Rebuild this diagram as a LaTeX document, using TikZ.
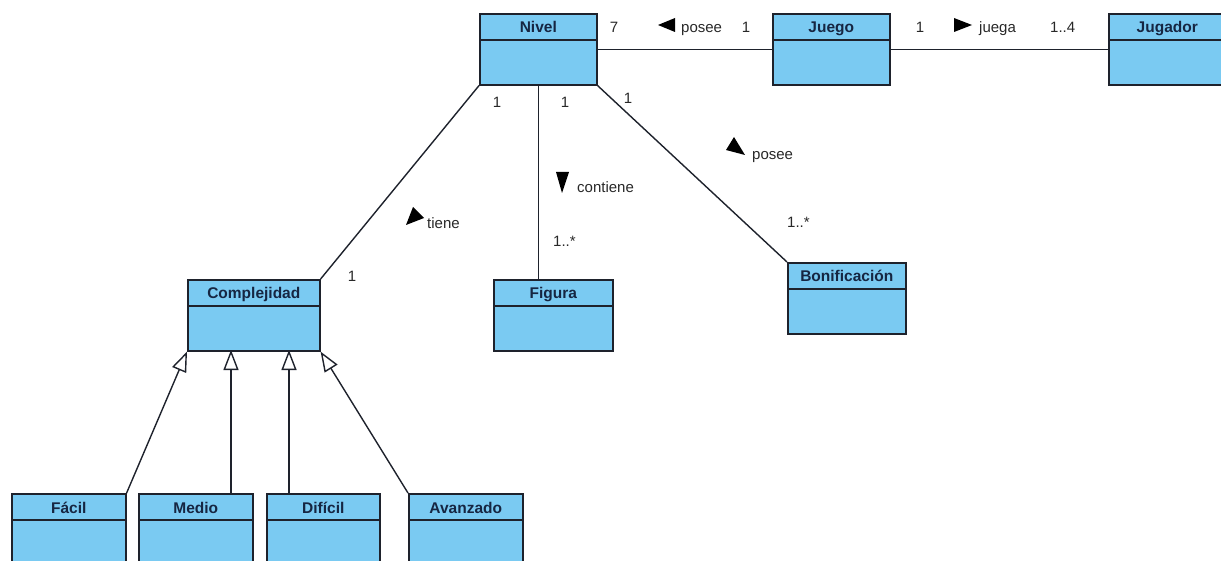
\documentclass[tikz,border=0pt]{standalone}
\usepackage{fontspec}
\setmainfont{Liberation Sans}
\usetikzlibrary{arrows.meta}
\definecolor{classfill}{RGB}{122,202,242}
\definecolor{classline}{RGB}{30,34,44}
\definecolor{classtext}{RGB}{22,38,66}
\definecolor{labeltext}{RGB}{40,40,40}
\tikzset{
  classbody/.style={draw=classline, line width=1.6pt, fill=classfill,
    rectangle, inner sep=0pt, anchor=north west, minimum height=71pt},
  classname/.style={font=\fontsize{15.5}{17}\selectfont\bfseries, text=classtext, inner sep=0pt, anchor=base},
  assoc/.style={draw=classline, line width=1.4pt},
  generalize/.style={draw=classline, line width=1.4pt,
    -{Triangle[open, length=20pt, width=15pt, fill=white, line width=1.4pt]}},
  mult/.style={font=\fontsize{15}{17}\selectfont, text=labeltext, inner sep=0pt, anchor=base},
  rolename/.style={font=\fontsize{15}{17}\selectfont, text=labeltext, inner sep=0pt, anchor=base west},
  dirmark/.style={fill=black, draw=none}
}
% class box: id, left x, top y, width, title
\newcommand{\umlclassbox}[5]{%
  \node[classbody, minimum width=#4pt] (#1) at (#2,#3) {};
  \draw[classline, line width=1.6pt] ([yshift=-27pt]#1.north west) -- ([yshift=-27pt]#1.north east);
  \node[classname] (#1-title) at ([yshift=-20pt]#1.north) {#5};
}
\begin{document}
\begin{tikzpicture}[x=1pt, y=-1pt]
\useasboundingbox (0,0) rectangle (1221,561);
\clip (0,0) rectangle (1221,561);

% classes
\umlclassbox{nivel}{479}{13}{117}{Nivel}
\umlclassbox{juego}{772}{13}{117}{Juego}
\umlclassbox{jugador}{1108}{13}{117}{Jugador}
\umlclassbox{compl}{187}{279}{132}{Complejidad}
\umlclassbox{figura}{493}{279}{119}{Figura}
\umlclassbox{bonif}{787}{262}{118}{Bonificación}
\umlclassbox{facil}{11}{493}{114}{Fácil}
\umlclassbox{medio}{138}{493}{114}{Medio}
\umlclassbox{dificil}{266}{493}{113}{Difícil}
\umlclassbox{avanz}{408}{493}{114}{Avanzado}

% associations
\draw[assoc] (nivel.east) -- (juego.west);
\draw[assoc] (juego.east) -- (jugador.west);
\draw[assoc] (nivel.south west) -- (compl.north east);
\draw[assoc] (nivel.south) -- (nivel.south |- figura.north);
\draw[assoc] (nivel.south east) -- (bonif.north west);

% generalizations
\coordinate (g2) at (231,350);
\coordinate (g3) at (289,350);
\draw[generalize] (facil.north east) -- (compl.south west);
\draw[generalize] (g2 |- medio.north) -- (g2);
\draw[generalize] (g3 |- dificil.north) -- (g3);
\draw[generalize] (avanz.north west) -- (compl.south east);

% Nivel - Juego
\node[mult] (m1) at (614,33) {7};
\fill[dirmark] (658,25) -- (675,18) -- (675,32) -- cycle;
\node[rolename] (r1) at (681,33) {posee};
\node[mult] (m2) at (746,33) {1};

% Juego - Jugador
\node[mult] (m3) at (920,33) {1};
\fill[dirmark] (972,25) -- (954,18) -- (954,32) -- cycle;
\node[rolename] (r2) at (979,33) {juega};
\node[rolename] (m4) at (1050,33) {1..4};

% Nivel - Complejidad
\node[mult] (m5) at (497,108) {1};
\fill[dirmark] (413,207) -- (424,218) -- (406,225) -- cycle;
\node[rolename] (r3) at (427,229) {tiene};
\node[mult] (m6) at (352,282) {1};

% Nivel - Figura
\node[mult] (m7) at (565,108) {1};
\fill[dirmark] (556,172) -- (569,172) -- (562,193) -- cycle;
\node[rolename] (r4) at (577,193) {contiene};
\node[rolename] (m8) at (553,247) {1..*};

% Nivel - Bonificacion
\node[mult] (m9) at (628,104) {1};
\fill[dirmark] (734,137) -- (726,150) -- (745,155) -- cycle;
\node[rolename] (r5) at (752,160) {posee};
\node[rolename] (m10) at (787,228) {1..*};
\end{tikzpicture}
\end{document}
